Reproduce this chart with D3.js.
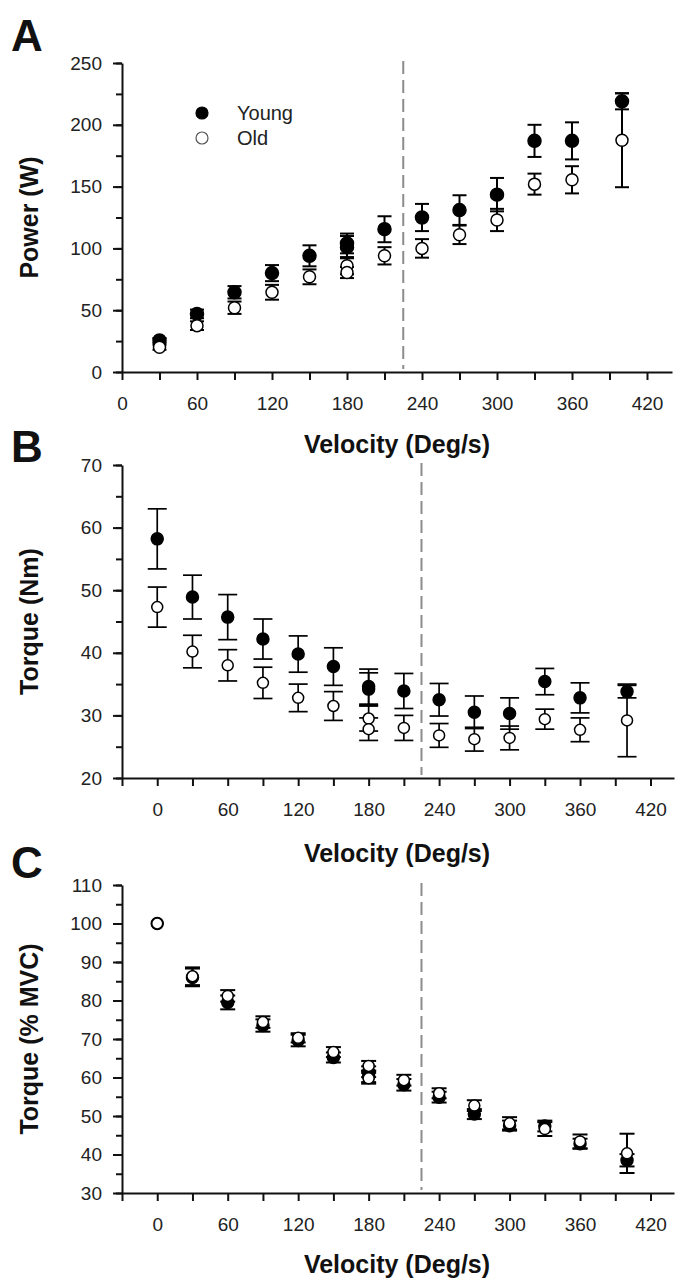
<!DOCTYPE html>
<html>
<head>
<meta charset="utf-8">
<script src="https://cdn.jsdelivr.net/npm/d3@7"></script>
<style>
	body { margin: 0; background: #fff; }
	svg { display: block; font-family: "Liberation Sans", Arial, sans-serif; }
	.tick text { font-size: 19px; fill: #222; }
	.axis-title { font-size: 25px; font-weight: bold; fill: #111; }
	.panel-letter { font-size: 44px; font-weight: bold; fill: #111; }
</style>
</head>
<body>
<svg id="fig" width="683" height="1281" viewBox="0 0 683 1281"></svg>
<script>

// Panel A: power
const velA = [30, 60, 90, 120, 150, 180, 180, 210, 240, 270, 300, 330, 360, 400];
const powerYoung = [25.5, 47, 64.5, 80, 94, 104, 101, 115.5, 125, 131, 143.5, 187, 187, 219];
const powerYoungSD = [2, 3.5, 5, 6.5, 8.5, 8, 9, 10.5, 11, 12, 13.5, 13, 15, 6.5];
const powerOld = [20, 37.5, 52, 64.5, 77, 86, 80.5, 94, 100, 111, 123, 152, 155.5, 187.5];
const powerOldSD = [2, 3.5, 5, 6, 6, 7, 4.5, 7, 7.5, 7.5, 9, 8.5, 11, 38];

// Panel B: torque (Nm)
const velB = [0, 30, 60, 90, 120, 150, 180, 180, 210, 240, 270, 300, 330, 360, 400];
const torqueYoung = [58.2, 48.9, 45.7, 42.2, 39.8, 37.8, 34.6, 34.2, 33.9, 32.5, 30.5, 30.3, 35.4, 32.8, 33.8];
const torqueYoungSD = [4.8, 3.5, 3.6, 3.2, 2.9, 3.0, 2.8, 2.6, 2.8, 2.6, 2.6, 2.5, 2.1, 2.4, 1.0];
const torqueOld = [47.3, 40.2, 38, 35.2, 32.8, 31.5, 29.5, 27.8, 28, 26.8, 26.2, 26.4, 29.4, 27.7, 29.2];
const torqueOldSD = [3.2, 2.6, 2.5, 2.5, 2.2, 2.3, 2.0, 1.8, 2.0, 1.9, 1.9, 1.9, 1.6, 1.9, 5.8];

// Panel C: torque (% MVC)
const velC = [0, 30, 60, 90, 120, 150, 180, 180, 210, 240, 270, 300, 330, 360, 400];
const relYoung = [100, 86, 79.5, 73.5, 69.6, 65.2, 61.5, 60.3, 58.1, 54.9, 50.5, 47.5, 47.4, 42.8, 38.5];
const relYoungSD = [0, 2.3, 1.8, 1.6, 1.5, 1.3, 1.4, 1.5, 1.5, 1.4, 1.3, 1.3, 1.4, 1.3, 1.6];
const relOld = [100, 86.3, 81.2, 74.4, 70.3, 66.6, 63, 59.8, 59.3, 55.9, 52.7, 48.1, 46.6, 43.4, 40.3];
const relOldSD = [0, 2.3, 1.5, 1.5, 1.2, 1.3, 1.3, 1.4, 1.4, 1.3, 1.4, 1.6, 1.8, 1.8, 5.1];

const groups = ["Young", "Old"];
const cutoffVelocity = 225;

const svg = d3.select("#fig");

function makePanel(opt) {
	const g = svg.append("g");
	const x = d3.scaleLinear().domain(opt.xDomain).range([122, opt.xEnd]);
	const y = d3.scaleLinear().domain(opt.yDomain).range([opt.yBottom, opt.yTop]);

	// dashed cut-off line
	g.append("line")
		.attr("x1", x(cutoffVelocity)).attr("x2", x(cutoffVelocity))
		.attr("y1", opt.yTop - 2).attr("y2", opt.yBottom - 3)
		.attr("stroke", "#8c8c8c")
		.attr("stroke-width", 2)
		.attr("stroke-dasharray", "13,6");

	// y axis: minor then major ticks
	g.append("g")
		.attr("transform", "translate(122,0)")
		.call(d3.axisLeft(y).tickValues(d3.range(opt.yDomain[0], opt.yDomain[1] + 0.01, opt.yMinor))
			.tickSize(6).tickSizeOuter(0).tickFormat(""))
		.call(a => a.selectAll("line, path").attr("stroke", "#111").attr("stroke-width", 2));
	g.append("g")
		.attr("transform", "translate(122,0)")
		.call(d3.axisLeft(y).tickValues(d3.range(opt.yDomain[0], opt.yDomain[1] + 0.01, opt.yMajor))
			.tickSize(9).tickSizeOuter(0).tickPadding(11))
		.call(a => a.select(".domain").remove())
		.call(a => a.selectAll("line").attr("stroke", "#111").attr("stroke-width", 2));

	// x axis
	const xTicks = d3.range(opt.xDomain[0], 421, 30);
	g.append("g")
		.attr("transform", "translate(0," + opt.yBottom + ")")
		.call(d3.axisBottom(x).tickValues(xTicks).tickSize(8).tickSizeOuter(0).tickPadding(10)
			.tickFormat(d => (d >= 0 && d % 60 === 0) ? d : ""))
		.call(a => a.selectAll("line, path").attr("stroke", "#111").attr("stroke-width", 2))
		.call(a => a.selectAll("text").attr("dy", "1.05em"));

	// points with error bars; young first, old drawn on top
	const series = [
		{ name: "Young", v: opt.young, sd: opt.youngSD, fill: "#000" },
		{ name: "Old", v: opt.old, sd: opt.oldSD, fill: "#fff" }
	];
	series.forEach(s => {
		const rows = opt.vel.map((vel, i) => ({ vel: vel, v: s.v[i], sd: s.sd[i] }));
		const sg = g.append("g");
		const bars = sg.selectAll("g.err")
			.data(rows.filter(d => d.sd > 0))
			.join("g")
			.attr("class", "err")
			.attr("stroke", "#000")
			.attr("stroke-width", opt.barWidth);
		bars.append("line")
			.attr("x1", d => x(d.vel)).attr("x2", d => x(d.vel))
			.attr("y1", d => y(d.v - d.sd)).attr("y2", d => y(d.v + d.sd));
		[-1, 1].forEach(sign => {
			bars.append("line")
				.attr("x1", d => x(d.vel) - opt.cap / 2).attr("x2", d => x(d.vel) + opt.cap / 2)
				.attr("y1", d => y(d.v + sign * d.sd)).attr("y2", d => y(d.v + sign * d.sd));
		});
		sg.selectAll("circle")
			.data(rows)
			.join("circle")
			.attr("cx", d => x(d.vel))
			.attr("cy", d => y(d.v))
			.attr("r", s.name === "Young" ? opt.r : opt.r - 0.5)
			.attr("fill", s.fill)
			.attr("stroke", "#000")
			.attr("stroke-width", 1.5);
	});

	// titles
	svg.append("text")
		.attr("class", "axis-title")
		.attr("text-anchor", "middle")
		.attr("x", 397)
		.attr("y", opt.xTitleY)
		.text("Velocity (Deg/s)");
	svg.append("text")
		.attr("class", "axis-title")
		.attr("text-anchor", "middle")
		.attr("transform", "translate(38," + ((opt.yTop + opt.yBottom) / 2) + ") rotate(-90)")
		.text(opt.yTitle);
	svg.append("text")
		.attr("class", "panel-letter")
		.attr("x", 11)
		.attr("y", opt.letterY)
		.text(opt.letter);

	return { x: x, y: y };
}

makePanel({
	letter: "A", letterY: 51, xTitleY: 453,
	xDomain: [0, 440], xEnd: 672,
	yDomain: [0, 250], yTop: 63, yBottom: 372, yMajor: 50, yMinor: 25,
	yTitle: "Power (W)",
	vel: velA, young: powerYoung, youngSD: powerYoungSD, old: powerOld, oldSD: powerOldSD,
	cap: 14, barWidth: 2, r: 6.5
});

makePanel({
	letter: "B", letterY: 462, xTitleY: 862,
	xDomain: [-30, 440], xEnd: 674,
	yDomain: [20, 70], yTop: 465, yBottom: 778, yMajor: 10, yMinor: 5,
	yTitle: "Torque (Nm)",
	vel: velB, young: torqueYoung, youngSD: torqueYoungSD, old: torqueOld, oldSD: torqueOldSD,
	cap: 19, barWidth: 1.7, r: 6
});

makePanel({
	letter: "C", letterY: 878, xTitleY: 1273,
	xDomain: [-30, 440], xEnd: 674,
	yDomain: [30, 110], yTop: 885, yBottom: 1193, yMajor: 10, yMinor: 5,
	yTitle: "Torque (% MVC)",
	vel: velC, young: relYoung, youngSD: relYoungSD, old: relOld, oldSD: relOldSD,
	cap: 15, barWidth: 2, r: 6
});

// legend in panel A
const legend = svg.append("g").attr("transform", "translate(202,113)");
legend.selectAll("circle")
	.data(groups)
	.join("circle")
	.attr("cx", 0)
	.attr("cy", (d, i) => i * 25)
	.attr("r", 6)
	.attr("fill", d => d === "Young" ? "#000" : "#fff")
	.attr("stroke", d => d === "Young" ? "#000" : "#555")
	.attr("stroke-width", 1.2);
legend.selectAll("text")
	.data(groups)
	.join("text")
	.attr("x", 35)
	.attr("y", (d, i) => i * 25 + 7)
	.attr("font-size", 20)
	.attr("fill", "#222")
	.text(d => d);

</script>
</body>
</html>
